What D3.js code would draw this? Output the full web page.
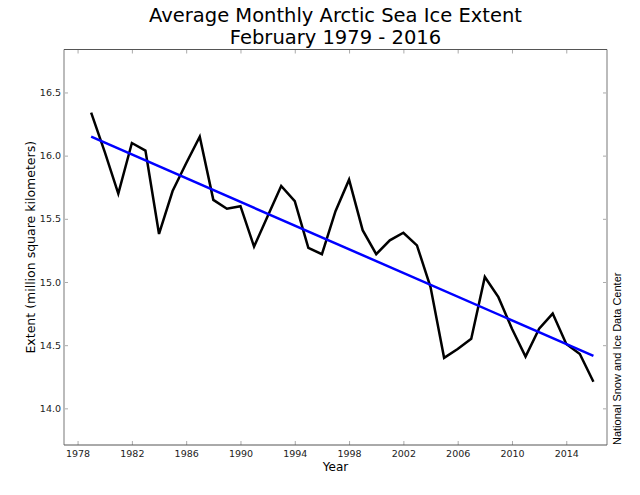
<!DOCTYPE html>
<html>
<head>
<meta charset="utf-8">
<script src="https://cdn.jsdelivr.net/npm/d3@7"></script>
<style>
  html, body { margin: 0; padding: 0; background: #fff; }
  svg { display: block; }
  text { font-family: "DejaVu Sans", sans-serif; }
</style>
</head>
<body>
<script>
// ---- data ----
const years = [1979,1980,1981,1982,1983,1984,1985,1986,1987,1988,1989,1990,1991,1992,1993,1994,1995,1996,1997,1998,1999,2000,2001,2002,2003,2004,2005,2006,2007,2008,2009,2010,2011,2012,2013,2014,2015,2016];
const extent = [16.34,16.03,15.70,16.10,16.04,15.38,15.72,15.94,16.15,15.65,15.58,15.60,15.28,15.52,15.76,15.64,15.27,15.22,15.56,15.81,15.41,15.22,15.33,15.39,15.29,14.96,14.40,14.47,14.55,15.04,14.88,14.63,14.41,14.63,14.75,14.51,14.43,14.21];
const trendYears = [1979, 2016];
const trendValues = [16.15, 14.415];
const xTicks = [1978,1982,1986,1990,1994,1998,2002,2006,2010,2014];
const yTicks = [14.0,14.5,15.0,15.5,16.0,16.5];
const titleLines = ["Average Monthly Arctic Sea Ice Extent", "February 1979 - 2016"];
const xLabel = "Year";
const yLabel = "Extent (million square kilometers)";
const credit = "National Snow and Ice Data Center";

// ---- layout ----
const W = 640, H = 495;
const m = {left: 64, right: 33, top: 49.5, bottom: 50};
const iw = W - m.left - m.right, ih = H - m.top - m.bottom;

const svg = d3.select("body").append("svg").attr("width", W).attr("height", H);

const x = d3.scaleLinear().domain([1977, 2017]).range([m.left, m.left + iw]);
const y = d3.scaleLinear().domain([d3.min(extent) - 0.5, d3.max(extent) + 0.5]).range([m.top + ih, m.top]);

// ticks (inside, all four sides)
const tickCol = "#aaaaaa";
const gx = svg.append("g").attr("transform", `translate(0,${m.top + ih})`)
  .call(d3.axisBottom(x).tickValues(xTicks).tickFormat(d3.format("d")).tickSizeInner(-4).tickSizeOuter(0).tickPadding(5));
const gxt = svg.append("g").attr("transform", `translate(0,${m.top})`)
  .call(d3.axisTop(x).tickValues(xTicks).tickFormat("").tickSizeInner(-4).tickSizeOuter(0));
const gy = svg.append("g").attr("transform", `translate(${m.left},0)`)
  .call(d3.axisLeft(y).tickValues(yTicks).tickFormat(d3.format(".1f")).tickSizeInner(-4).tickSizeOuter(0).tickPadding(3));
const gyr = svg.append("g").attr("transform", `translate(${m.left + iw},0)`)
  .call(d3.axisRight(y).tickValues(yTicks).tickFormat("").tickSizeInner(-4).tickSizeOuter(0));
[gx, gxt, gy, gyr].forEach(g => {
  g.select(".domain").remove();
  g.selectAll(".tick line").attr("stroke", tickCol).attr("stroke-width", 1);
  g.selectAll(".tick text").attr("fill", "#222").style("font-size", "9.5px").style("font-family", "DejaVu Sans, sans-serif");
});

// spines
svg.append("line").attr("x1", m.left).attr("x2", m.left).attr("y1", m.top).attr("y2", m.top + ih)
  .attr("stroke", "#bbbbbb").attr("stroke-width", 2);
svg.append("line").attr("x1", m.left + iw).attr("x2", m.left + iw).attr("y1", m.top).attr("y2", m.top + ih)
  .attr("stroke", "#bbbbbb").attr("stroke-width", 2);
svg.append("line").attr("x1", m.left).attr("x2", m.left + iw).attr("y1", m.top).attr("y2", m.top)
  .attr("stroke", "#555555").attr("stroke-width", 1);
svg.append("line").attr("x1", m.left).attr("x2", m.left + iw).attr("y1", m.top + ih).attr("y2", m.top + ih)
  .attr("stroke", "#555555").attr("stroke-width", 1);

// data line
const line = d3.line().x((d, i) => x(years[i])).y(d => y(d));
svg.append("path").datum(extent).attr("d", line)
  .attr("fill", "none").attr("stroke", "#000").attr("stroke-width", 2.5).attr("stroke-linejoin", "miter");

// trend line
const tline = d3.line().x((d, i) => x(trendYears[i])).y(d => y(d));
svg.append("path").datum(trendValues).attr("d", tline)
  .attr("fill", "none").attr("stroke", "#0000ff").attr("stroke-width", 2.5);

// title
const cx = m.left + iw / 2;
svg.append("text").attr("x", cx).attr("y", 22).attr("text-anchor", "middle")
  .style("font-size", "19.5px").attr("fill", "#000").text(titleLines[0]);
svg.append("text").attr("x", cx).attr("y", 44).attr("text-anchor", "middle")
  .style("font-size", "19.5px").attr("fill", "#000").text(titleLines[1]);

// axis labels
svg.append("text").attr("x", cx).attr("y", 471).attr("text-anchor", "middle")
  .style("font-size", "12px").attr("fill", "#000").text(xLabel);
svg.append("text").attr("transform", `translate(35,${m.top + ih / 2}) rotate(-90)`).attr("text-anchor", "middle")
  .style("font-size", "12.5px").attr("fill", "#000").text(yLabel);
svg.append("text").attr("transform", `translate(621,${m.top + ih}) rotate(-90)`).attr("text-anchor", "start")
  .style("font-size", "11px").style("font-family", "Liberation Sans, Arial, sans-serif").attr("fill", "#000").text(credit);
</script>
</body>
</html>
